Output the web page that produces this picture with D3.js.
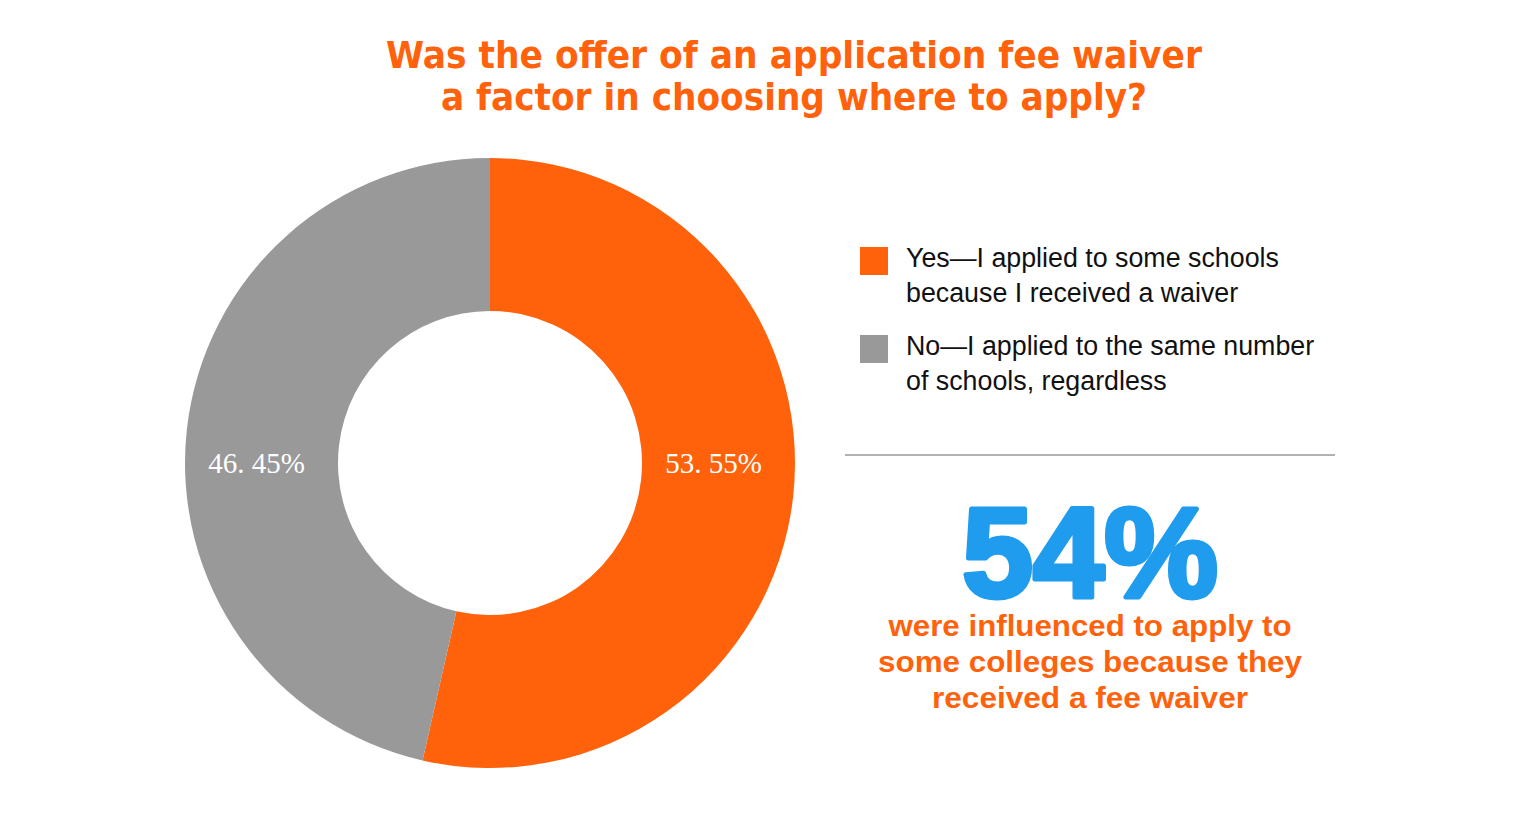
<!DOCTYPE html>
<html><head><meta charset="utf-8">
<script src="https://cdn.jsdelivr.net/npm/d3@7"></script>
<style>body{margin:0;background:#fff;}svg{display:block;}</style>
</head><body>
<svg id="c" width="1536" height="826"></svg>
<script>
const categories = ["Yes—I applied to some schools because I received a waiver", "No—I applied to the same number of schools, regardless"];
const values = [53.55, 46.45];
const labels = ["53. 55%", "46. 45%"];
const legendLines = [["Yes—I applied to some schools", "because I received a waiver"], ["No—I applied to the same number", "of schools, regardless"]];
const titleLines = ["Was the offer of an application fee waiver", "a factor in choosing where to apply?"];
const bigNumber = "54%";
const noteLines = ["were influenced to apply to", "some colleges because they", "received a fee waiver"];

const colors = ["#FF620A", "#999999"];
const svg = d3.select("#c");
const cx = 490, cy = 463, R = 305, r = 152;

const titleW = [816, 706];
svg.append("g").selectAll("text").data(titleLines).join("text")
  .attr("x", 794).attr("y", (d,i)=>68+i*42).attr("text-anchor","middle")
  .attr("font-family","'Liberation Sans Narrow','DejaVu Sans Condensed',sans-serif")
  .attr("font-weight","bold").attr("font-size",38).attr("fill","#FF620A")
  .attr("textLength",(d,i)=>titleW[i]).attr("lengthAdjust","spacingAndGlyphs").text(d=>d);

const pie = d3.pie().sort(null).value(d=>d);
const arc = d3.arc().innerRadius(r).outerRadius(R);
const g = svg.append("g").attr("transform",`translate(${cx},${cy})`);
g.selectAll("path").data(pie(values)).join("path").attr("d",arc).attr("fill",(d,i)=>colors[i]);
const mid = (r+R)/2;
g.selectAll("text").data(labels).join("text")
  .attr("x",(d,i)=> i===0 ? mid-5 : -mid-5).attr("y",10).attr("text-anchor","middle")
  .attr("font-family","'Liberation Serif','DejaVu Serif',serif").attr("font-size",29).attr("fill","#fff").text(d=>d);

const lg = svg.append("g");
legendLines.forEach((lines,i)=>{
  const y0 = 247 + i*88;
  lg.append("rect").attr("x",860).attr("y",y0).attr("width",28).attr("height",28).attr("fill",colors[i]);
  lines.forEach((t,j)=>{
    lg.append("text").attr("x",906).attr("y",y0+20+j*35)
      .attr("font-family","'Liberation Sans',Arial,sans-serif").attr("font-size",26.8).attr("fill","#111").text(t);
  });
});

svg.append("line").attr("x1",845).attr("x2",1335).attr("y1",455).attr("y2",455).attr("stroke","#999").attr("stroke-width",1.5);

svg.append("text").attr("x",1090).attr("y",597).attr("text-anchor","middle")
  .attr("font-family","'Liberation Sans',Arial,sans-serif").attr("font-weight","900").attr("font-size",128)
  .attr("fill","#209CEE").attr("stroke","#209CEE").attr("stroke-width",5).attr("stroke-linejoin","round").text(bigNumber);

const noteW = [403, 424, 316];
svg.append("g").selectAll("text").data(noteLines).join("text")
  .attr("x",1090).attr("y",(d,i)=>636+i*36).attr("text-anchor","middle")
  .attr("font-family","'Liberation Sans',Arial,sans-serif").attr("font-weight","bold").attr("font-size",29)
  .attr("textLength",(d,i)=>noteW[i]).attr("lengthAdjust","spacingAndGlyphs")
  .attr("fill","#FF620A").text(d=>d);
</script>
</body></html>
